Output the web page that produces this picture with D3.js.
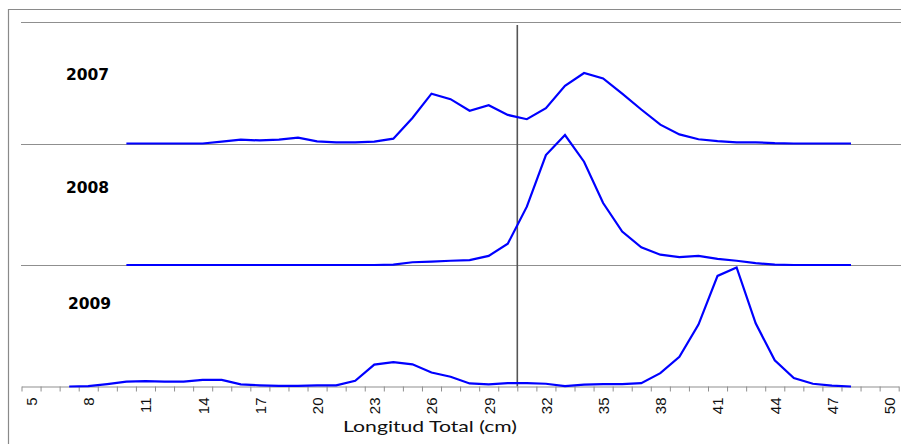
<!DOCTYPE html>
<html>
<head>
<meta charset="utf-8">
<script src="https://cdn.jsdelivr.net/npm/d3@7"></script>
<style>
  body { margin: 0; background: #fff; }
  svg { display: block; }
</style>
</head>
<body>
<div id="chart"></div>
<script>
// Length classes (cm) and frequencies
const lengths10 = [10, 11, 12, 13, 14, 15, 16, 17, 18, 19, 20, 21, 22, 23, 24, 25, 26, 27, 28, 29,
  30, 31, 32, 33, 34, 35, 36, 37, 38, 39, 40, 41, 42, 43, 44, 45, 46, 47, 48];
const lengths7 = [7, 8, 9, 10, 11, 12, 13, 14, 15, 16, 17, 18, 19, 20, 21, 22, 23, 24, 25, 26, 27, 28, 29,
  30, 31, 32, 33, 34, 35, 36, 37, 38, 39, 40, 41, 42, 43, 44, 45, 46, 47, 48];

const freq2007 = [0, 0, 0, 0, 0, 0.3, 0.65, 0.5, 0.65, 0.95, 0.35, 0.2, 0.2, 0.3, 0.8, 4.2, 8.2, 7.3, 5.4, 6.3,
  4.7, 4.0, 5.8, 9.5, 11.6, 10.7, 8.2, 5.6, 3.1, 1.5, 0.7, 0.4, 0.2, 0.2, 0.05, 0, 0, 0, 0];
const freq2008 = [0, 0, 0, 0, 0, 0, 0, 0, 0, 0, 0, 0, 0, 0, 0.05, 0.45, 0.55, 0.7, 0.8, 1.5,
  3.5, 9.6, 18.1, 21.4, 17.0, 10.2, 5.5, 2.9, 1.7, 1.3, 1.5, 1.0, 0.7, 0.3, 0.05, 0, 0, 0, 0];
const freq2009 = [0, 0.05, 0.4, 0.8, 0.9, 0.8, 0.8, 1.1, 1.1, 0.35, 0.2, 0.1, 0.1, 0.2, 0.2, 0.95, 3.6, 4.0, 3.65, 2.3, 1.6, 0.5, 0.35,
  0.55, 0.55, 0.45, 0.05, 0.3, 0.4, 0.4, 0.55, 2.2, 4.9, 10.2, 18.2, 19.6, 10.4, 4.3, 1.4, 0.45, 0.15, 0];

const years = ["2007", "2008", "2009"];
const tickLabels = [5, 8, 11, 14, 17, 20, 23, 26, 29, 32, 35, 38, 41, 44, 47, 50];
const refLength = 30.5;

const panels = [
  { year: years[0], x: lengths10, y: freq2007 },
  { year: years[1], x: lengths10, y: freq2008 },
  { year: years[2], x: lengths7, y: freq2009 },
];

const W = 901, H = 444;
const svg = d3.select("#chart").append("svg").attr("width", W).attr("height", H);

const plotTop = 22, plotBottom = 386.5;
const panelH = (plotBottom - plotTop) / 3;

const xScale = d3.scaleLinear().domain([4.5, 50.5]).range([21.5, 898.7]);

// frame
svg.append("line").attr("x1", 8.5).attr("x2", 8.5).attr("y1", 9).attr("y2", H)
  .attr("stroke", "#8a8a8a").attr("stroke-width", 1.2);
svg.append("line").attr("x1", 8).attr("x2", W).attr("y1", 9.5).attr("y2", 9.5)
  .attr("stroke", "#8a8a8a").attr("stroke-width", 1.2);

// panel separators
[0, 1, 2].forEach((i) => {
  const y = Math.round(plotTop + i * panelH) + 0.5;
  svg.append("line").attr("x1", 21).attr("x2", W).attr("y1", y).attr("y2", y)
    .attr("stroke", "#8f8f8f").attr("stroke-width", 1);
});

// reference line
svg.append("line")
  .attr("x1", xScale(refLength)).attr("x2", xScale(refLength))
  .attr("y1", 25).attr("y2", plotBottom)
  .attr("stroke", "#555").attr("stroke-width", 1.6);

// x axis: ticks on class boundaries, labels in the middle
const boundaries = d3.range(4.5, 50.6, 1);
const axisG = svg.append("g").attr("transform", `translate(0,${plotBottom})`);
axisG.call(d3.axisBottom(xScale).tickValues(boundaries).tickFormat("").tickSize(5).tickSizeOuter(0));
axisG.select(".domain").attr("stroke", "#8f8f8f");
axisG.selectAll(".tick line").attr("stroke", "#8f8f8f");

const labelG = svg.append("g").attr("transform", `translate(0,${plotBottom})`);
labelG.call(d3.axisBottom(xScale).tickValues(tickLabels).tickSize(0).tickFormat(d3.format("d")));
labelG.select(".domain").remove();
labelG.selectAll(".tick text")
  .attr("font-family", "Liberation Sans, Arial, sans-serif")
  .attr("font-size", 15)
  .attr("fill", "#111")
  .attr("text-anchor", "end")
  .attr("transform", "rotate(-90)")
  .attr("x", -11)
  .attr("y", 0)
  .attr("dy", "0.36em");

svg.append("text")
  .attr("x", 430).attr("y", 432)
  .attr("text-anchor", "middle")
  .attr("font-family", "Lato, Open Sans, sans-serif")
  .attr("font-size", 16)
  .attr("textLength", 174)
  .attr("lengthAdjust", "spacingAndGlyphs")
  .attr("fill", "#111")
  .text("Longitud Total (cm)");

// panels
const labelY = [80, 192.5, 309];
const labelX = [66, 66, 68];
panels.forEach((p, i) => {
  const base = plotTop + (i + 1) * panelH;
  const yScale = d3.scaleLinear().domain([0, 20]).range([base, base - panelH]);
  const line = d3.line()
    .x((d, j) => xScale(p.x[j]))
    .y((d) => yScale(d));
  svg.append("path")
    .attr("d", line(p.y))
    .attr("fill", "none")
    .attr("stroke", "#0000ff")
    .attr("stroke-width", 2.2)
    .attr("stroke-linejoin", "miter");
  svg.append("text")
    .attr("x", labelX[i]).attr("y", labelY[i])
    .attr("font-family", "DejaVu Sans, sans-serif")
    .attr("font-weight", "bold")
    .attr("font-size", 15.5)
    .attr("fill", "#000")
    .text(p.year);
});
</script>
</body>
</html>
